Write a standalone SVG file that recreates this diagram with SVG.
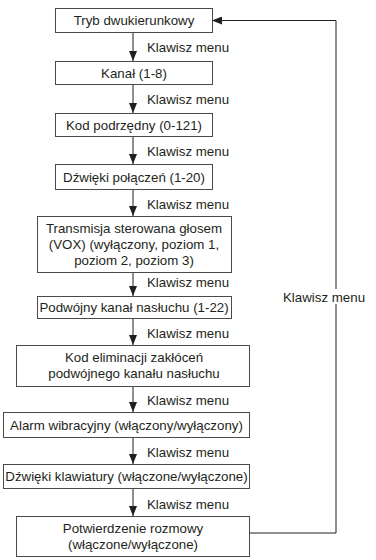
<svg xmlns="http://www.w3.org/2000/svg" width="376" height="560" viewBox="0 0 376 560">
<style>
.box{fill:#fff;stroke:#4a4a4a;stroke-width:1}
.t{font-family:"Liberation Sans",Arial,sans-serif;font-size:13.3px;fill:#231f20;text-anchor:middle}
.l{font-family:"Liberation Sans",Arial,sans-serif;font-size:13.3px;fill:#231f20}
.c{fill:none;stroke:#231f20;stroke-width:1}
</style>
<defs>
<marker id="ah" markerWidth="10" markerHeight="8" refX="10" refY="4" orient="auto" markerUnits="userSpaceOnUse">
<path d="M0,0 L10,4 L0,8 Z" fill="#231f20"/>
</marker>
</defs>
<rect width="376" height="560" fill="#fff"/>
<g id="connectors">
<line class="c" x1="133" y1="33" x2="133" y2="61" marker-end="url(#ah)"/>
<line class="c" x1="133" y1="84" x2="133" y2="113" marker-end="url(#ah)"/>
<line class="c" x1="133" y1="137" x2="133" y2="164" marker-end="url(#ah)"/>
<line class="c" x1="133" y1="190" x2="133" y2="216" marker-end="url(#ah)"/>
<line class="c" x1="133" y1="273" x2="133" y2="296" marker-end="url(#ah)"/>
<line class="c" x1="133" y1="319" x2="133" y2="345" marker-end="url(#ah)"/>
<line class="c" x1="133" y1="387" x2="133" y2="412" marker-end="url(#ah)"/>
<line class="c" x1="133" y1="438" x2="133" y2="464" marker-end="url(#ah)"/>
<line class="c" x1="133" y1="489" x2="133" y2="516" marker-end="url(#ah)"/>
<path class="c" d="M249,533 H336 V20.5 H212" marker-end="url(#ah)"/>
<text class="l" x="147" y="52">Klawisz menu</text>
<text class="l" x="147" y="104">Klawisz menu</text>
<text class="l" x="147" y="156">Klawisz menu</text>
<text class="l" x="147" y="209">Klawisz menu</text>
<text class="l" x="147" y="287">Klawisz menu</text>
<text class="l" x="147" y="338">Klawisz menu</text>
<text class="l" x="147" y="405">Klawisz menu</text>
<text class="l" x="147" y="457">Klawisz menu</text>
<text class="l" x="147" y="509">Klawisz menu</text>
<rect x="282" y="289" width="92" height="15" fill="#fff"/>
<text class="l" x="283" y="302">Klawisz menu</text>
</g>
<g id="n1"><rect class="box" x="55.5" y="8.5" width="157" height="24"/><text class="t" x="134" y="25">Tryb dwukierunkowy</text></g>
<g id="n2"><rect class="box" x="55.5" y="61.5" width="157" height="23"/><text class="t" x="134" y="77.5">Kanał (1-8)</text></g>
<g id="n3"><rect class="box" x="55.5" y="113.5" width="157" height="23"/><text class="t" x="134" y="129.5">Kod podrzędny (0-121)</text></g>
<g id="n4"><rect class="box" x="55.5" y="164.5" width="157" height="25"/><text class="t" x="134" y="181.5">Dźwięki połączeń (1-20)</text></g>
<g id="n5"><rect class="box" x="37.5" y="216.5" width="194" height="56"/><text class="t" x="134" y="233">Transmisja sterowana głosem</text><text class="t" x="134" y="249">(VOX) (wyłączony, poziom 1,</text><text class="t" x="134" y="265">poziom 2, poziom 3)</text></g>
<g id="n6"><rect class="box" x="37.5" y="296.5" width="194" height="22"/><text class="t" x="134" y="312">Podwójny kanał nasłuchu (1-22)</text></g>
<g id="n7"><rect class="box" x="16.5" y="345.5" width="233" height="41"/><text class="t" x="134" y="362">Kod eliminacji zakłóceń</text><text class="t" x="134" y="378">podwójnego kanału nasłuchu</text></g>
<g id="n8"><rect class="box" x="3.5" y="412.5" width="246" height="25"/><text class="t" x="126.5" y="429.5">Alarm wibracyjny (włączony/wyłączony)</text></g>
<g id="n9"><rect class="box" x="3.5" y="464.5" width="246" height="24"/><text class="t" x="126.5" y="481">Dźwięki klawiatury (włączone/wyłączone)</text></g>
<g id="n10"><rect class="box" x="16.5" y="516.5" width="233" height="40"/><text class="t" x="133" y="532.5">Potwierdzenie rozmowy</text><text class="t" x="133" y="548.5">(włączone/wyłączone)</text></g>
</svg>
